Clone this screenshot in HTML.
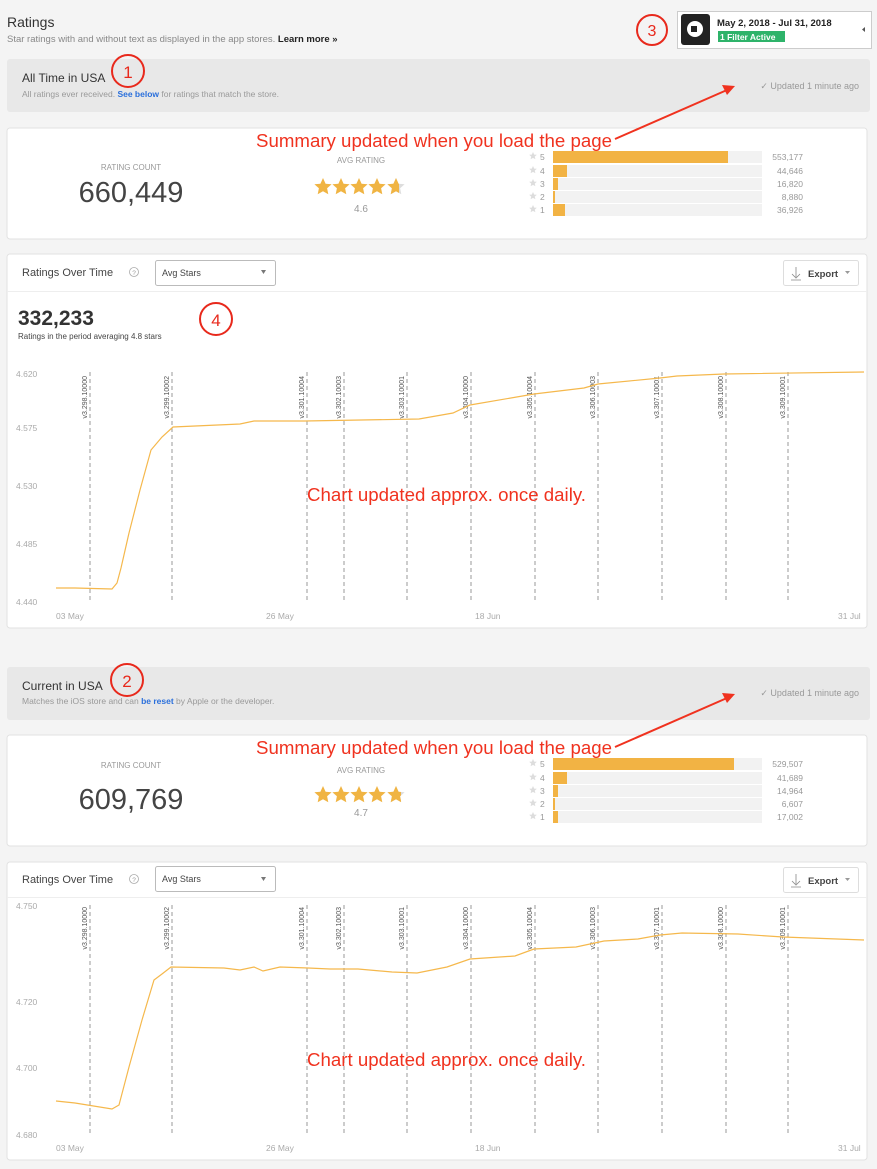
<!DOCTYPE html>
<html><head><meta charset="utf-8"><style>
html,body{margin:0;padding:0;background:#f4f4f4;}
svg{display:block;font-family:"Liberation Sans",sans-serif;}
</style></head><body>
<svg width="877" height="1169" viewBox="0 0 877 1169" xmlns="http://www.w3.org/2000/svg">
<defs>
<path id="st" d="M0,-9 L2.6,-3.2 L8.6,-2.8 L4.1,1.3 L5.3,7.3 L0,4.2 L-5.3,7.3 L-4.1,1.3 L-8.6,-2.8 L-2.6,-3.2 Z"/>
<path id="sst" d="M0,-4 L1.2,-1.4 L3.8,-1.2 L1.8,0.6 L2.4,3.3 L0,1.9 L-2.4,3.3 L-1.8,0.6 L-3.8,-1.2 L-1.2,-1.4 Z" fill="#ddd"/>
<clipPath id="half"><rect x="-9" y="-10" width="12" height="20"/></clipPath>
<clipPath id="half2"><rect x="-9" y="-10" width="14" height="20"/></clipPath>
</defs>
<rect width="877" height="1169" fill="#f4f4f4"/>
<text x="7" y="27" font-size="14" fill="#333">Ratings</text>
<text x="7" y="42" font-size="9.5" fill="#888">Star ratings with and without text as displayed in the app stores. <tspan fill="#222" font-weight="bold">Learn more »</tspan></text>
<rect x="677.5" y="11.5" width="194" height="37" fill="#fff" stroke="#ccc"/>
<rect x="681" y="14" width="29" height="31" rx="3" fill="#222"/>
<circle cx="695" cy="29" r="8" fill="#fff"/><rect x="691" y="26" width="6" height="6" fill="#222"/>
<text x="717" y="26" font-size="9.5" font-weight="bold" fill="#222">May 2, 2018 - Jul 31, 2018</text>
<rect x="718" y="31" width="67" height="11" fill="#2eb36a"/>
<text x="720" y="40" font-size="8.5" font-weight="bold" fill="#fff">1 Filter Active</text>
<path d="M865,27 l-3,2.5 l3,2.5z" fill="#555"/>
<circle cx="652" cy="30" r="15" fill="none" stroke="#e8291c" stroke-width="2"/>
<text x="652" y="36" font-size="16" fill="#e8291c" text-anchor="middle">3</text>

<g>
<rect x="7" y="59" width="863" height="53" rx="3" fill="#e8e8e8"/>
<text x="22" y="82" font-size="12" fill="#333">All Time in USA</text>
<text x="22" y="97" font-size="8.5" fill="#999">All ratings ever received. <tspan fill="#2a6fdb" font-weight="bold">See below</tspan> for ratings that match the store.</text>
<text x="859" y="89" font-size="9" fill="#999" text-anchor="end">✓  Updated 1 minute ago</text>
<circle cx="128" cy="71" r="16" fill="none" stroke="#e8291c" stroke-width="2"/>
<text x="128" y="78" font-size="17" fill="#e8291c" text-anchor="middle">1</text>
<rect x="7" y="128" width="860" height="111" rx="3" fill="#fff" stroke="#e2e2e2"/>
<text x="131" y="170" font-size="8" fill="#999" text-anchor="middle">RATING COUNT</text>
<text x="131" y="202" font-size="29" fill="#444" text-anchor="middle">660,449</text>
<text x="361" y="163" font-size="8" fill="#999" text-anchor="middle">AVG RATING</text>
<g fill="#f0b443"><use href="#st" x="323" y="187"/><use href="#st" x="341" y="187"/><use href="#st" x="359" y="187"/><use href="#st" x="377" y="187"/><use href="#st" x="396" y="187" fill="#ddd"/><g transform="translate(396,187)" clip-path="url(#half)"><use href="#st" fill="#f0b443"/></g></g>
<text x="361" y="212" font-size="10" fill="#999" text-anchor="middle">4.6</text>
<g font-size="8.5" fill="#999">
<rect x="553" y="151" width="209" height="12" fill="#f2f2f2"/><rect x="553" y="151" width="175" height="12" fill="#f2b344"/>
<rect x="553" y="165" width="209" height="12" fill="#f2f2f2"/><rect x="553" y="165" width="14" height="12" fill="#f2b344"/>
<rect x="553" y="178" width="209" height="12" fill="#f2f2f2"/><rect x="553" y="178" width="5" height="12" fill="#f2b344"/>
<rect x="553" y="191" width="209" height="12" fill="#f2f2f2"/><rect x="553" y="191" width="2" height="12" fill="#f2b344"/>
<rect x="553" y="204" width="209" height="12" fill="#f2f2f2"/><rect x="553" y="204" width="12" height="12" fill="#f2b344"/>
<use href="#sst" x="533" y="156"/><text x="540" y="160">5</text>
<use href="#sst" x="533" y="170"/><text x="540" y="174">4</text>
<use href="#sst" x="533" y="183"/><text x="540" y="187">3</text>
<use href="#sst" x="533" y="196"/><text x="540" y="200">2</text>
<use href="#sst" x="533" y="209"/><text x="540" y="213">1</text>
<g text-anchor="end"><text x="803" y="160">553,177</text><text x="803" y="174">44,646</text><text x="803" y="187">16,820</text><text x="803" y="200">8,880</text><text x="803" y="213">36,926</text></g>
</g>
<text x="256" y="147" font-size="18" fill="#f0321f" textLength="356" lengthAdjust="spacingAndGlyphs">Summary updated when you load the page</text>
<line x1="615" y1="139" x2="727" y2="90" stroke="#f0321f" stroke-width="2"/>
<path d="M735,86 l-13,-1 l5,10z" fill="#f0321f"/>
</g>

<g>
<rect x="7" y="254" width="860" height="374" rx="3" fill="#fff" stroke="#e2e2e2"/>
<line x1="7" y1="291.5" x2="867" y2="291.5" stroke="#eee"/>
<text x="22" y="276" font-size="11" fill="#444">Ratings Over Time</text>
<circle cx="134" cy="272" r="4.5" fill="none" stroke="#aaa" stroke-width="0.8"/><text x="134" y="275" font-size="6.5" fill="#999" text-anchor="middle">?</text>
<rect x="155.5" y="260.5" width="120" height="25" rx="2" fill="#fff" stroke="#bbb"/>
<text x="162" y="276" font-size="9" fill="#444">Avg Stars</text>
<path d="M261,270 l5,0 l-2.5,4z" fill="#777"/>
<rect x="783.5" y="260.5" width="75" height="25" rx="2" fill="#fff" stroke="#ddd"/>
<text x="808" y="277" font-size="9.5" font-weight="bold" fill="#444">Export</text>
<path d="M796,267 v10 M792,274 l4,4 l4,-4 M791,280 h10" stroke="#888" fill="none" stroke-width="0.8"/>
<path d="M845,271 l5,0 l-2.5,3z" fill="#999"/>
<text x="18" y="325" font-size="21" font-weight="bold" fill="#333">332,233</text>
<text x="18" y="339" font-size="8" fill="#444">Ratings in the period averaging 4.8 stars</text>
<circle cx="216" cy="319" r="16" fill="none" stroke="#e8291c" stroke-width="2"/>
<text x="216" y="326" font-size="17" fill="#e8291c" text-anchor="middle">4</text>
<g font-size="8.5" fill="#aaa"><text x="16" y="377">4.620</text><text x="16" y="431">4.575</text><text x="16" y="489">4.530</text><text x="16" y="547">4.485</text><text x="16" y="605">4.440</text></g>
<g font-size="8.5" fill="#aaa"><text x="56" y="619">03 May</text><text x="266" y="619">26 May</text><text x="475" y="619">18 Jun</text><text x="838" y="619">31 Jul</text></g>
<g stroke="#999" stroke-dasharray="4,3" stroke-width="1">
<line x1="90" y1="372" x2="90" y2="602"/><line x1="172" y1="372" x2="172" y2="602"/><line x1="307" y1="372" x2="307" y2="602"/><line x1="344" y1="372" x2="344" y2="602"/><line x1="407" y1="372" x2="407" y2="602"/><line x1="471" y1="372" x2="471" y2="602"/><line x1="535" y1="372" x2="535" y2="602"/><line x1="598" y1="372" x2="598" y2="602"/><line x1="662" y1="372" x2="662" y2="602"/><line x1="726" y1="372" x2="726" y2="602"/><line x1="788" y1="372" x2="788" y2="602"/>
</g>
<g font-size="7" fill="#555" text-anchor="end">
<text transform="translate(87,376) rotate(-90)">v3.298.10000</text>
<text transform="translate(169,376) rotate(-90)">v3.299.10002</text>
<text transform="translate(304,376) rotate(-90)">v3.301.10004</text>
<text transform="translate(341,376) rotate(-90)">v3.302.10003</text>
<text transform="translate(404,376) rotate(-90)">v3.303.10001</text>
<text transform="translate(468,376) rotate(-90)">v3.304.10000</text>
<text transform="translate(532,376) rotate(-90)">v3.305.10004</text>
<text transform="translate(595,376) rotate(-90)">v3.306.10003</text>
<text transform="translate(659,376) rotate(-90)">v3.307.10001</text>
<text transform="translate(723,376) rotate(-90)">v3.308.10000</text>
<text transform="translate(785,376) rotate(-90)">v3.309.10001</text>
</g>
<polyline fill="none" stroke="#f5b84c" stroke-width="1.2" points="56,588 75,588 112,589 117,583 121,568 129,533 140,490 151,450 162,437 173,427 240,424 254,421 305,421 419,419 453,413 470,405 534,394 584,388 598,384 660,378 677,376 724,374 864,372"/>
<text x="307" y="501" font-size="18" fill="#f0321f" textLength="279" lengthAdjust="spacingAndGlyphs">Chart updated approx. once daily.</text>
</g>

<g>
<rect x="7" y="667" width="863" height="53" rx="3" fill="#e8e8e8"/>
<text x="22" y="690" font-size="12" fill="#333">Current in USA</text>
<text x="22" y="704" font-size="8.5" fill="#999">Matches the iOS store and can <tspan fill="#2a6fdb" font-weight="bold">be reset</tspan> by Apple or the developer.</text>
<text x="859" y="696" font-size="9" fill="#999" text-anchor="end">✓  Updated 1 minute ago</text>
<circle cx="127" cy="680" r="16" fill="none" stroke="#e8291c" stroke-width="2"/>
<text x="127" y="687" font-size="17" fill="#e8291c" text-anchor="middle">2</text>
<rect x="7" y="735" width="860" height="111" rx="3" fill="#fff" stroke="#e2e2e2"/>
<text x="131" y="768" font-size="8" fill="#999" text-anchor="middle">RATING COUNT</text>
<text x="131" y="809" font-size="29" fill="#444" text-anchor="middle">609,769</text>
<text x="361" y="773" font-size="8" fill="#999" text-anchor="middle">AVG RATING</text>
<g fill="#f0b443"><use href="#st" x="323" y="795"/><use href="#st" x="341" y="795"/><use href="#st" x="359" y="795"/><use href="#st" x="377" y="795"/><use href="#st" x="396" y="795" fill="#ddd"/><g transform="translate(396,795)" clip-path="url(#half2)"><use href="#st" fill="#f0b443"/></g></g>
<text x="361" y="816" font-size="10" fill="#999" text-anchor="middle">4.7</text>
<g font-size="8.5" fill="#999">
<rect x="553" y="758" width="209" height="12" fill="#f2f2f2"/><rect x="553" y="758" width="181" height="12" fill="#f2b344"/>
<rect x="553" y="772" width="209" height="12" fill="#f2f2f2"/><rect x="553" y="772" width="14" height="12" fill="#f2b344"/>
<rect x="553" y="785" width="209" height="12" fill="#f2f2f2"/><rect x="553" y="785" width="5" height="12" fill="#f2b344"/>
<rect x="553" y="798" width="209" height="12" fill="#f2f2f2"/><rect x="553" y="798" width="2" height="12" fill="#f2b344"/>
<rect x="553" y="811" width="209" height="12" fill="#f2f2f2"/><rect x="553" y="811" width="5" height="12" fill="#f2b344"/>
<use href="#sst" x="533" y="763"/><text x="540" y="767">5</text>
<use href="#sst" x="533" y="777"/><text x="540" y="781">4</text>
<use href="#sst" x="533" y="790"/><text x="540" y="794">3</text>
<use href="#sst" x="533" y="803"/><text x="540" y="807">2</text>
<use href="#sst" x="533" y="816"/><text x="540" y="820">1</text>
<g text-anchor="end"><text x="803" y="767">529,507</text><text x="803" y="781">41,689</text><text x="803" y="794">14,964</text><text x="803" y="807">6,607</text><text x="803" y="820">17,002</text></g>
</g>
<text x="256" y="754" font-size="18" fill="#f0321f" textLength="356" lengthAdjust="spacingAndGlyphs">Summary updated when you load the page</text>
<line x1="615" y1="747" x2="727" y2="698" stroke="#f0321f" stroke-width="2"/>
<path d="M735,694 l-13,-1 l5,10z" fill="#f0321f"/>
</g>

<g>
<rect x="7" y="862" width="860" height="298" rx="3" fill="#fff" stroke="#e2e2e2"/>
<line x1="7" y1="897.5" x2="867" y2="897.5" stroke="#eee"/>
<text x="22" y="883" font-size="11" fill="#444">Ratings Over Time</text>
<circle cx="134" cy="879" r="4.5" fill="none" stroke="#aaa" stroke-width="0.8"/><text x="134" y="882" font-size="6.5" fill="#999" text-anchor="middle">?</text>
<rect x="155.5" y="866.5" width="120" height="25" rx="2" fill="#fff" stroke="#bbb"/>
<text x="162" y="882" font-size="9" fill="#444">Avg Stars</text>
<path d="M261,877 l5,0 l-2.5,4z" fill="#777"/>
<rect x="783.5" y="867.5" width="75" height="25" rx="2" fill="#fff" stroke="#ddd"/>
<text x="808" y="884" font-size="9.5" font-weight="bold" fill="#444">Export</text>
<path d="M796,874 v10 M792,881 l4,4 l4,-4 M791,887 h10" stroke="#888" fill="none" stroke-width="0.8"/>
<path d="M845,878 l5,0 l-2.5,3z" fill="#999"/>
<g font-size="8.5" fill="#aaa"><text x="16" y="909">4.750</text><text x="16" y="1005">4.720</text><text x="16" y="1071">4.700</text><text x="16" y="1138">4.680</text></g>
<g font-size="8.5" fill="#aaa"><text x="56" y="1151">03 May</text><text x="266" y="1151">26 May</text><text x="475" y="1151">18 Jun</text><text x="838" y="1151">31 Jul</text></g>
<g stroke="#999" stroke-dasharray="4,3" stroke-width="1">
<line x1="90" y1="905" x2="90" y2="1135"/><line x1="172" y1="905" x2="172" y2="1135"/><line x1="307" y1="905" x2="307" y2="1135"/><line x1="344" y1="905" x2="344" y2="1135"/><line x1="407" y1="905" x2="407" y2="1135"/><line x1="471" y1="905" x2="471" y2="1135"/><line x1="535" y1="905" x2="535" y2="1135"/><line x1="598" y1="905" x2="598" y2="1135"/><line x1="662" y1="905" x2="662" y2="1135"/><line x1="726" y1="905" x2="726" y2="1135"/><line x1="788" y1="905" x2="788" y2="1135"/>
</g>
<g font-size="7" fill="#555" text-anchor="end">
<text transform="translate(87,907) rotate(-90)">v3.298.10000</text>
<text transform="translate(169,907) rotate(-90)">v3.299.10002</text>
<text transform="translate(304,907) rotate(-90)">v3.301.10004</text>
<text transform="translate(341,907) rotate(-90)">v3.302.10003</text>
<text transform="translate(404,907) rotate(-90)">v3.303.10001</text>
<text transform="translate(468,907) rotate(-90)">v3.304.10000</text>
<text transform="translate(532,907) rotate(-90)">v3.305.10004</text>
<text transform="translate(595,907) rotate(-90)">v3.306.10003</text>
<text transform="translate(659,907) rotate(-90)">v3.307.10001</text>
<text transform="translate(723,907) rotate(-90)">v3.308.10000</text>
<text transform="translate(785,907) rotate(-90)">v3.309.10001</text>
</g>
<polyline fill="none" stroke="#f5b84c" stroke-width="1.2" points="56,1101 75,1103 112,1109 119,1105 129,1067 142,1020 154,980 162,974 171,967 224,968 240,970 254,967 263,971 280,967 308,968 330,969 358,969 392,972 417,973 447,967 470,959 515,956 534,949 576,947 604,941 638,939 660,935 682,933 738,934 783,937 864,940"/>
<text x="307" y="1066" font-size="18" fill="#f0321f" textLength="279" lengthAdjust="spacingAndGlyphs">Chart updated approx. once daily.</text>
</g>
</svg>
</body></html>
